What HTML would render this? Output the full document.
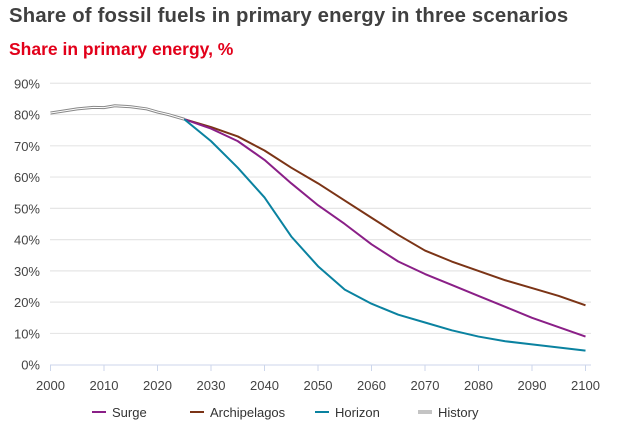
<!DOCTYPE html>
<html><head><meta charset="utf-8"><style>
body{margin:0;background:#fff;width:621px;height:438px;overflow:hidden;font-family:"Liberation Sans",sans-serif}
#t{position:absolute;left:9px;top:5px;font-size:20.3px;font-weight:bold;color:#404040;letter-spacing:0.2px}
#s{position:absolute;left:9px;top:39px;font-size:17.5px;font-weight:bold;color:#e2001a}
svg{position:absolute;left:0;top:0}
</style></head><body>
<div id="t">Share of fossil fuels in primary energy in three scenarios</div>
<div id="s">Share in primary energy, %</div>
<svg id="c" width="621" height="438"></svg>
<script>
const years5=[2025,2030,2035,2040,2045,2050,2055,2060,2065,2070,2075,2080,2085,2090,2095,2100];
const histYears=[2000,2002,2005,2008,2010,2012,2015,2018,2020,2022,2025];
const history=[80.5,81,81.8,82.3,82.2,82.8,82.5,81.8,80.8,80,78.5];
const surge=[78.5,75.5,71.5,65.5,58,51,45,38.5,33,29,25.5,22,18.5,15,12,9];
const archipelagos=[78.5,76,73,68.5,63,58,52.5,47,41.5,36.5,33,30,27,24.5,22,19];
const horizon=[78.5,71.5,63,53.5,41,31.5,24,19.5,16,13.5,11,9,7.5,6.5,5.5,4.5];
const yTicks=[0,10,20,30,40,50,60,70,80,90];
const xTicks=[2000,2010,2020,2030,2040,2050,2060,2070,2080,2090,2100];
const X=y=>50.5+(y-2000)*5.35, Y=v=>364.7-v*3.127;
const svg=document.getElementById('c'),NS='http://www.w3.org/2000/svg';
function mk(t,a){const e=document.createElementNS(NS,t);for(const k in a)e.setAttribute(k,a[k]);svg.appendChild(e);return e;}
yTicks.forEach(v=>{
 if(v>0){const g=mk('line',{x1:50,x2:591,y1:Y(v),y2:Y(v),stroke:'#e6e6e6','stroke-width':1.2});
 
 }
 const t=mk('text',{x:40,y:Y(v)+5,'text-anchor':'end','font-size':13,fill:'#444'});t.textContent=v+'%';
 
 
});
const ax=mk('line',{x1:50,x2:591,y1:365,y2:365,stroke:'#ccd6eb','stroke-width':1});


xTicks.forEach(v=>{
 mk('line',{x1:X(v),x2:X(v),y1:365,y2:371,stroke:'#ccd6eb'});
 const t=mk('text',{x:X(v),y:390,'text-anchor':'middle','font-size':13,fill:'#444'});t.textContent=v;
 
 
});
function pts(xs,vs){return xs.map((x,i)=>X(x)+','+Y(vs[i])).join(' ');}
const hp=pts(histYears,history);
let h1=mk('polyline',{points:hp,fill:'none',stroke:'#888','stroke-width':3});


let h2=mk('polyline',{points:hp,fill:'none',stroke:'#fff','stroke-width':1});


[['archipelagos-line',archipelagos,'#7b3416'],['surge-line',surge,'#8a1f87'],['horizon-line',horizon,'#0a82a0']].forEach(s=>{
 const p=mk('polyline',{points:pts(years5,s[1]),fill:'none',stroke:s[2],'stroke-width':2,'stroke-linejoin':'round'});
 
 
});
[['Surge','#8a1f87',92],['Archipelagos','#7b3416',190],['Horizon','#0a82a0',315]].forEach(l=>{
 mk('line',{x1:l[2],x2:l[2]+14,y1:412,y2:412,stroke:l[1],'stroke-width':2});
 const t=mk('text',{x:l[2]+20,y:417,'font-size':13,fill:'#333'});t.textContent=l[0];
 
 
});
mk('line',{x1:418,x2:432,y1:412,y2:412,stroke:'#888','stroke-width':3});
mk('line',{x1:418,x2:432,y1:412,y2:412,stroke:'#fff','stroke-width':1});
const ht=mk('text',{x:438,y:417,'font-size':13,fill:'#333'});ht.textContent='History';


</script>
</body></html>
